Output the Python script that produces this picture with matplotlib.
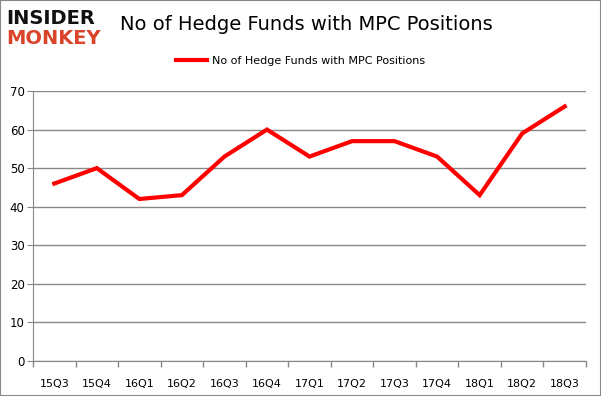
import numpy as np
import matplotlib.pyplot as plt
from matplotlib.patches import Rectangle

quarters = ["15Q3", "15Q4", "16Q1", "16Q2", "16Q3", "16Q4", "17Q1",
            "17Q2", "17Q3", "17Q4", "18Q1", "18Q2", "18Q3"]
funds = [46, 50, 42, 43, 53, 60, 53, 57, 57, 53, 43, 59, 66]
yticks = [0, 10, 20, 30, 40, 50, 60, 70]

fig = plt.figure(figsize=(6.01, 3.96), dpi=100)
ax = fig.add_axes([33 / 601, 1 - 361 / 396, (586 - 33) / 601, (361 - 91) / 396])

x = np.arange(len(quarters))
ax.plot(x, funds, color="#ff0000", linewidth=3, solid_joinstyle="miter",
        label="No of Hedge Funds with MPC Positions")

ax.set_xlim(-0.5, len(quarters) - 0.5)
ax.set_ylim(0, 70)
ax.set_yticks(yticks)
ax.set_xticks(x)
ax.set_xticklabels(quarters, fontsize=8)
ax.set_xticks(np.arange(-0.5, len(quarters)), minor=True)
ax.tick_params(axis="x", which="major", length=0, pad=13)
ax.tick_params(axis="x", which="minor", length=4, color="#888888", width=1)
ax.tick_params(axis="y", length=4, color="#888888", labelsize=8.5, pad=2)
ax.grid(axis="y", color="#888888", linewidth=1)
ax.set_axisbelow(True)
for s in ["top", "right"]:
    ax.spines[s].set_visible(False)
for s in ["left", "bottom"]:
    ax.spines[s].set_color("#888888")

fig.legend(loc="center", bbox_to_anchor=(0.5, 1 - 61 / 396), frameon=False,
           fontsize=8, handlelength=2.8, handletextpad=0.5)

fig.text(120 / 601, 1 - 25 / 396, "No of Hedge Funds with MPC Positions",
         fontsize=14, va="center", ha="left")
fig.text(6 / 601, 1 - 18 / 396, "INSIDER", fontsize=14, fontweight="black",
         va="center", ha="left", color="#111111")
fig.text(6 / 601, 1 - 39 / 396, "MONKEY", fontsize=14, fontweight="black",
         va="center", ha="left", color="#d9442b")

fig.patches.append(Rectangle((0, 0), 1, 1, transform=fig.transFigure, fill=False,
                             edgecolor="#888888", linewidth=1.5))

fig.savefig("out.png", dpi=100)
